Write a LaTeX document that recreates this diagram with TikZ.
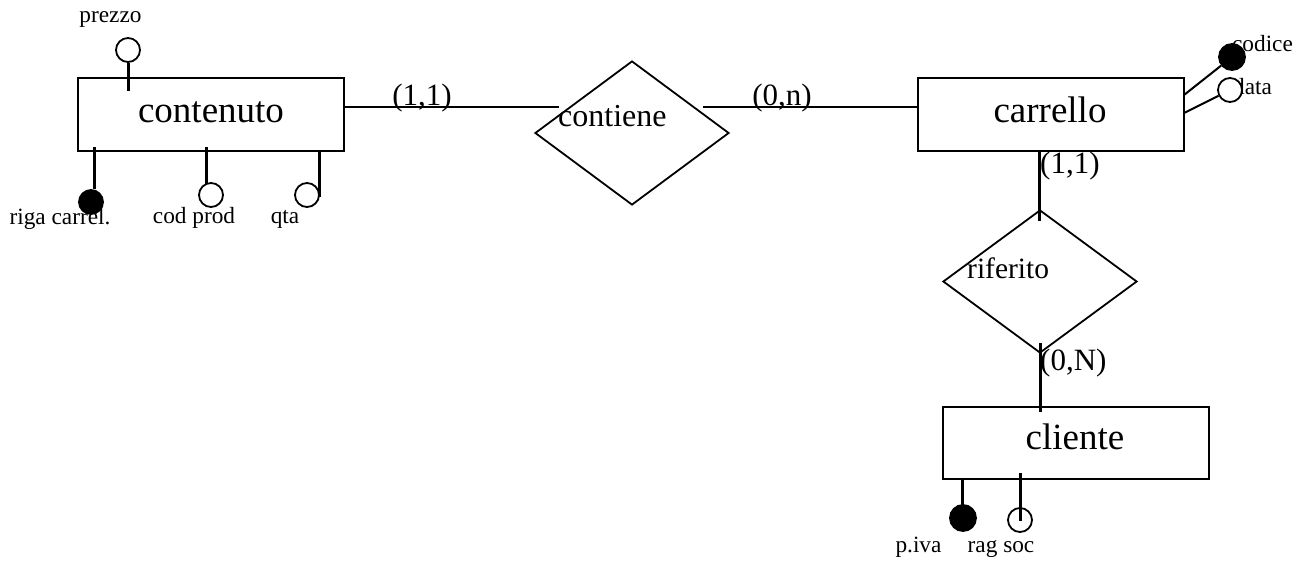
\documentclass[tikz,border=0pt]{standalone}
\usepackage{fontspec}
\setmainfont{Liberation Serif}
\usetikzlibrary{shapes.geometric}
\begin{document}
\begin{tikzpicture}[x=1pt,y=-1pt,
  entity/.style={draw, line width=1.5pt, rectangle, minimum width=266pt, minimum height=73pt, inner sep=0pt},
  relation/.style={draw, line width=1.8pt, diamond, minimum width=194pt, minimum height=144pt, inner sep=0pt},
  etext/.style={anchor=base, inner sep=0pt, font=\fontsize{37}{40}\selectfont},
  rtext/.style={anchor=base west, inner sep=0pt, font=\fontsize{#1}{36}\selectfont},
  card/.style={inner sep=0pt, font=\fontsize{31}{36}\selectfont},
  atext/.style={anchor=base, inner sep=0pt, font=\fontsize{23.3}{26}\selectfont},
  attr/.style={draw, circle, line width=1.8pt, fill=white, minimum size=24pt, inner sep=0pt},
  keyattr/.style={attr, fill=black, minimum size=26pt},
  conn/.style={line width=2.2pt},
  stem/.style={line width=3pt},
  slant/.style={line width=2pt}
]
\useasboundingbox (0,0) rectangle (1301,562);

% entities
\node[entity] (contenuto) at (211,114.5) {};
\node[entity] (carrello) at (1051,114.5) {};
\node[entity, minimum height=72pt] (cliente) at (1076,443) {};
\node[etext] (contenutoT) at (211,122) {contenuto};
\node[etext] (carrelloT) at (1050,122.5) {carrello};
\node[etext] (clienteT) at (1075,449) {cliente};

% relationships
\node[relation] (contiene) at (632,133) {};
\node[relation, minimum height=143pt] (riferito) at (1040,281.5) {};
\node[rtext=32] (contieneT) at (558,126) {contiene};
\node[rtext=29.5] (riferitoT) at (967,278) {riferito};

% contenuto -- contiene -- carrello
\coordinate (cL) at (559,107);
\coordinate (cR) at (703,107);
\draw[conn] (cL -| contenuto.east) -- (cL);
\draw[conn] (cR) -- (cR -| carrello.west);
\node[card, anchor=base] (c11) at (422,105) {(1,1)};
\node[card, anchor=base] (c0n) at (782,105) {(0,n)};

% carrello -- riferito -- cliente
\draw[stem] (carrello.south -| 1039,0) -- ([yshift=-12pt]riferito.north -| 1039,0);
\draw[stem] ([yshift=11pt]riferito.south) -- ([yshift=-6pt]riferito.south |- cliente.north);
\node[card, anchor=base west] (r11) at (1040,173) {(1,1)};
\node[card, anchor=base west] (r0N) at (1040,370) {(0,N)};

% attributes of contenuto
\node[atext] (prezzoT) at (110.5,22.7) {prezzo};
\node[attr] (prezzo) at (128,50) {};
\draw[stem] (prezzo.south) -- (128,91);

\node[keyattr, minimum size=24pt] (riga) at (91,202) {};
\draw[stem] (94,147) -- (riga.north -| 94,0);
\node[atext] (rigaT) at (60,224) {riga carrel.};

\node[atext] (codT) at (194,223) {cod prod};
\node[attr] (cod) at (211,195) {};
\draw[stem] (206,147) -- (206,183.5);

\node[atext] (qtaT) at (285,223) {qta};
\node[attr] (qta) at (307,195) {};
\draw[stem] (319,150) -- (319,197);

% attributes of carrello
\node[atext] (codiceT) at (1262.5,51.7) {codice};
\node[atext] (dataT) at (1252.5,94) {data};
\coordinate (codiceR) at (1184,95);
\coordinate (dataR) at (1184,113);
\node[keyattr] (codice) at (1232,57) {};
\node[attr] (data) at (1230,90) {};
\draw[slant] (codiceR) -- (codice);
\draw[slant] (dataR) -- (data);

% attributes of cliente
\node[atext] (pivaT) at (918.5,552.5) {p.iva};
\node[keyattr] (piva) at (963,518) {};
\draw[stem] (962,478) -- (962,507);

\node[atext] (ragT) at (1001,552.5) {rag soc};
\node[attr] (rag) at (1020,520) {};
\draw[stem] (1020,473) -- (1020,521);
\end{tikzpicture}
\end{document}
